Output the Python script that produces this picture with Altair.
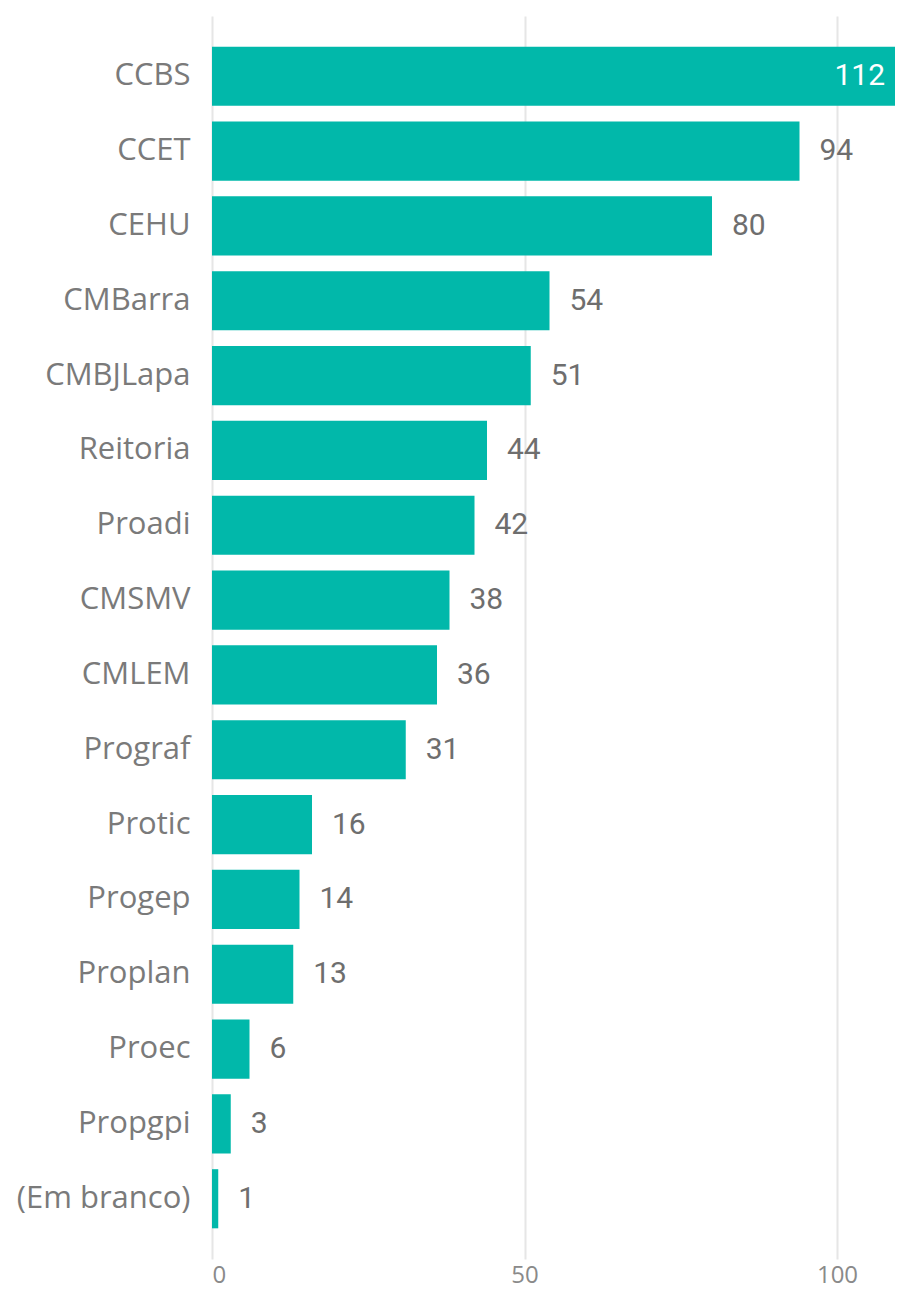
import altair as alt
import pandas as pd

categories = ["CCBS", "CCET", "CEHU", "CMBarra", "CMBJLapa", "Reitoria", "Proadi",
              "CMSMV", "CMLEM", "Prograf", "Protic", "Progep", "Proplan", "Proec",
              "Propgpi", "(Em branco)"]
values = [112, 94, 80, 54, 51, 44, 42, 38, 36, 31, 16, 14, 13, 6, 3, 1]
x_ticks = [0, 50, 100]
x_max = 109.28

df = pd.DataFrame({"cat": categories, "val": values})

W, H = 683, 1243
teal = "#01B8AA"
gray = "#777777"

base = alt.Chart(df).encode(
    y=alt.Y("cat:N", sort=categories, title=None,
            scale=alt.Scale(paddingInner=0.21, paddingOuter=0.41),
            axis=alt.Axis(domain=False, ticks=False, labelPadding=22,
                          labelFont="Open Sans", labelFontSize=31,
                          labelColor="#7a7a7a", grid=False))
)

xenc = alt.X("val:Q", title=None,
             scale=alt.Scale(domain=[0, x_max], nice=False, zero=True),
             axis=alt.Axis(values=x_ticks, domain=False, ticks=False,
                           labelPadding=4, labelFont="Open Sans",
                           labelFontSize=24, labelColor="#8a8a8a",
                           grid=True, gridColor="#e6e6e6", gridWidth=2))

bars = base.mark_bar(color=teal, clip=True).encode(x=xenc)

outside = base.transform_filter(alt.datum.val <= x_max - 8).mark_text(
    align="left", baseline="middle", dx=20, font="Roboto", fontSize=30,
    color="#6e6e6e").encode(x=alt.X("val:Q"), text="val:Q")

inside = base.transform_filter(alt.datum.val > x_max - 8).transform_calculate(
    pos=f"min(datum.val, {x_max})").mark_text(
    align="right", baseline="middle", dx=-10, font="Roboto", fontSize=30,
    color="white").encode(x=alt.X("pos:Q"), text="val:Q")

chart = alt.layer(bars, outside, inside).properties(
    width=W, height=H,
    autosize=alt.AutoSizeParams(type="none"),
    padding={"left": 204, "top": 8, "right": 0, "bottom": 32},
).configure_view(stroke=None)

chart.save("out.html", embed_options={"renderer": "svg", "actions": False})
